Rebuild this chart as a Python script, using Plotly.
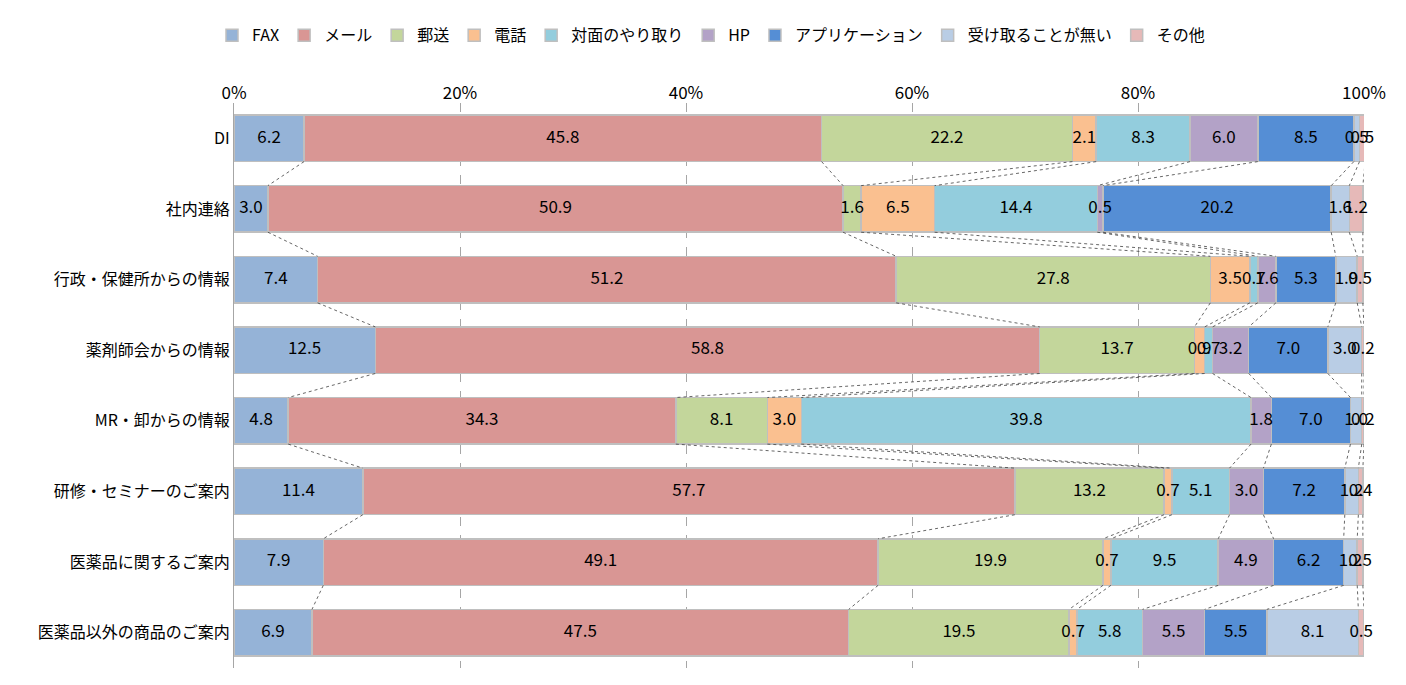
import numpy as np
import plotly.graph_objects as go

categories = ["DI", "社内連絡", "行政・保健所からの情報", "薬剤師会からの情報", "MR・卸からの情報",
              "研修・セミナーのご案内", "医薬品に関するご案内", "医薬品以外の商品のご案内"]
series_names = ["FAX", "メール", "郵送", "電話", "対面のやり取り", "HP", "アプリケーション", "受け取ることが無い", "その他"]
fax = [6.2, 3.0, 7.4, 12.5, 4.8, 11.4, 7.9, 6.9]
mail = [45.8, 50.9, 51.2, 58.8, 34.3, 57.7, 49.1, 47.5]
post = [22.2, 1.6, 27.8, 13.7, 8.1, 13.2, 19.9, 19.5]
phone = [2.1, 6.5, 3.5, 0.9, 3.0, 0.7, 0.7, 0.7]
face = [8.3, 14.4, 0.7, 0.7, 39.8, 5.1, 9.5, 5.8]
hp = [6.0, 0.5, 1.6, 3.2, 1.8, 3.0, 4.9, 5.5]
app = [8.5, 20.2, 5.3, 7.0, 7.0, 7.2, 6.2, 5.5]
none_ = [0.5, 1.6, 1.9, 3.0, 1.0, 1.2, 1.2, 8.1]
other = [0.5, 1.2, 0.5, 0.2, 0.2, 0.4, 0.5, 0.5]
values = [fax, mail, post, phone, face, hp, app, none_, other]
colors = ["#95b3d7", "#d99694", "#c3d69b", "#fac090", "#93cddd", "#b3a2c7", "#558ed5", "#b9cde5", "#e6b9b8"]

ypos = list(range(len(categories)))
bw = 0.66
fig = go.Figure()

arr = np.array(values)
cum = np.cumsum(arr, axis=0)

# series connector lines
cx, cy = [], []
for s in range(len(values)):
    for i in range(len(categories) - 1):
        cx += [cum[s][i], cum[s][i + 1], None]
        cy += [i + bw / 2, i + 1 - bw / 2, None]
fig.add_trace(go.Scatter(x=cx, y=cy, mode="lines", line=dict(color="#404040", width=0.8, dash="dot"),
                         showlegend=False, hoverinfo="skip"))

for name, vals, col in zip(series_names, values, colors):
    fig.add_trace(go.Bar(name=name, y=ypos, x=vals, orientation="h", width=bw,
                         marker=dict(color=col, line=dict(color="#bfbfbf", width=1.5)),
                         hoverinfo="x+name"))

# value labels at segment centres (not clipped)
mid = cum - arr / 2
lx, ly, lt = [], [], []
for s in range(len(values)):
    for i in range(len(categories)):
        lx.append(mid[s][i])
        ly.append(i)
        lt.append(f"{arr[s][i]:.1f}")
fig.add_trace(go.Scatter(x=lx, y=ly, text=lt, mode="text", textposition="middle center",
                         textfont=dict(size=17, color="#000000"), showlegend=False,
                         hoverinfo="skip", cliponaxis=False))

fig.update_layout(
    barmode="stack", width=1406, height=685, plot_bgcolor="white", paper_bgcolor="white",
    margin=dict(l=226, r=50, t=95, b=25),
    font=dict(family="Noto Sans CJK JP", size=16, color="#000000"),
    legend=dict(orientation="h", x=0.5, xanchor="center", xref="container",
                y=0.985, yanchor="top", yref="container",
                font=dict(size=16), traceorder="normal"),
    xaxis=dict(side="top", range=[0, 100], tickvals=[0, 20, 40, 60, 80, 100],
               ticktext=["0%", "20%", "40%", "60%", "80%", "100%"], tickfont=dict(size=17),
               showgrid=True, gridcolor="#a6a6a6", griddash="dash", zeroline=False),
    yaxis=dict(tickvals=ypos, ticktext=categories, range=[len(categories) - 0.5, -0.5],
               showline=True, linecolor="#a6a6a6", ticks="", ticksuffix="  "),
)
fig.write_html("out.html")
